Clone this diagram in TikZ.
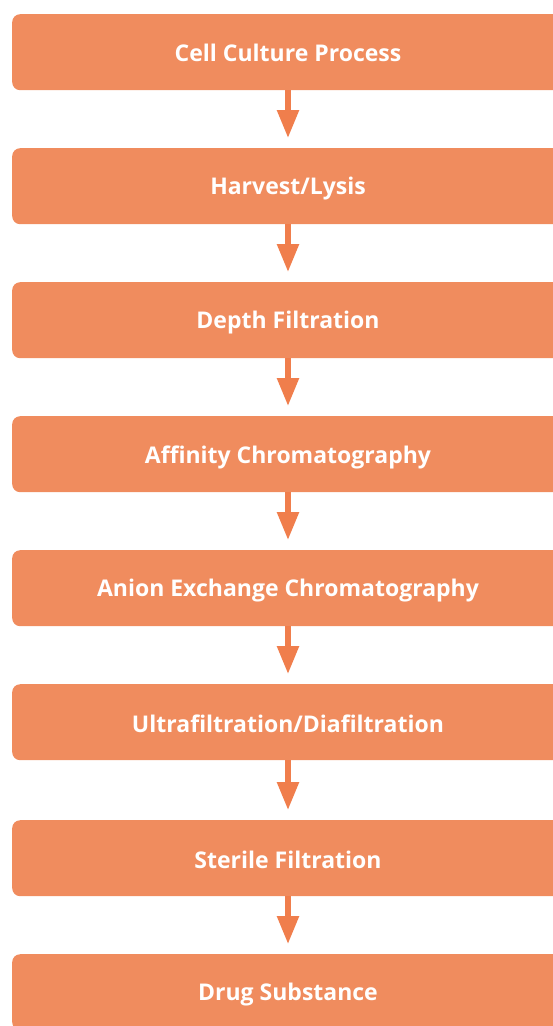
\documentclass[tikz,border=0pt]{standalone}
\usepackage{fontspec}
\setmainfont{Open Sans}
\usetikzlibrary{arrows.meta}
\definecolor{boxfill}{RGB}{240,140,94}
\definecolor{arrowcol}{RGB}{240,126,76}
\begin{document}
\begin{tikzpicture}[x=1pt,y=-1pt,
  stepbox/.style={fill=boxfill, draw=none, rounded corners=8pt, minimum width=560pt,
    minimum height=76pt, anchor=north west, inner sep=0pt},
  steplabel/.style={text=white, font=\fontsize{23}{27}\selectfont\bfseries, anchor=center},
  flow/.style={draw=arrowcol, line width=5.5pt,
    -{Triangle[length=28pt, width=21pt]}, shorten >=10pt}]
\useasboundingbox (0,0) rectangle (553,1026);
\clip (0,0) rectangle (553,1026);
\foreach \n/\y in {1/14,2/148,3/282,4/416,5/550,6/684,7/820,8/954}{
  \node[stepbox] (b\n) at (12,\y) {};
  \coordinate (t\n) at (288,\y);
  \coordinate (u\n) at (288,\y+76);
}
\node[steplabel] at (288,53) {Cell Culture Process};
\node[steplabel] at (288,189) {Harvest/Lysis};
\node[steplabel] at (288,323) {Depth Filtration};
\node[steplabel] at (288,457) {Affinity Chromatography};
\node[steplabel] at (288,591) {Anion Exchange Chromatography};
\node[steplabel] at (288,724) {Ultrafiltration/Diafiltration};
\node[steplabel] at (288,860) {Sterile Filtration};
\node[steplabel] at (288,995) {Drug Substance};
\foreach \a/\b in {1/2,2/3,3/4,4/5,5/6,6/7,7/8}{
  \draw[flow] (u\a) -- (t\b);
}
\end{tikzpicture}
\end{document}
